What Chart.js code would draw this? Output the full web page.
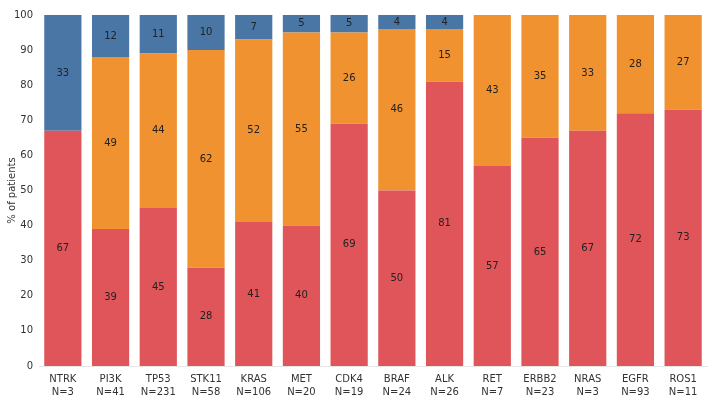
<!DOCTYPE html>
<html>
<head>
<meta charset="utf-8">
<script src="https://cdn.jsdelivr.net/npm/chart.js@4"></script>
<style>
  html, body { margin: 0; padding: 0; background: #fff; }
  #wrap { width: 709px; height: 400px; }
</style>
</head>
<body>
<div id="wrap"><canvas id="geneChart"></canvas></div>
<script>
// genes and patient counts
const genes = ['NTRK', 'PI3K', 'TP53', 'STK11', 'KRAS', 'MET', 'CDK4', 'BRAF', 'ALK', 'RET', 'ERBB2', 'NRAS', 'EGFR', 'ROS1'];
const counts = [3, 41, 231, 58, 106, 20, 19, 24, 26, 7, 23, 3, 93, 11];

// % of patients per segment (bottom -> top)
const redValues = [67, 39, 45, 28, 41, 40, 69, 50, 81, 57, 65, 67, 72, 73];
const orangeValues = [0, 49, 44, 62, 52, 55, 26, 46, 15, 43, 35, 33, 28, 27];
const blueValues = [33, 12, 11, 10, 7, 5, 5, 4, 4, 0, 0, 0, 0, 0];

const yTicks = [0, 10, 20, 30, 40, 50, 60, 70, 80, 90, 100];

// 막대 안쪽 값 표시
const segmentLabels = {
    id: 'segmentLabels',
    afterDatasetsDraw(chart) {
        const ctx = chart.ctx;
        ctx.save();
        ctx.font = '10px "DejaVu Sans", Verdana, sans-serif';
        ctx.fillStyle = '#222';
        ctx.textAlign = 'center';
        ctx.textBaseline = 'middle';
        chart.data.datasets.forEach((ds, i) => {
            const meta = chart.getDatasetMeta(i);
            meta.data.forEach((bar, j) => {
                const v = ds.data[j];
                if (!v) return;
                const mid = (bar.y + bar.base) / 2;
                ctx.fillText(String(v), bar.x, mid);
            });
        });
        ctx.restore();
    }
};

const ctx = document.getElementById('geneChart').getContext('2d');
const geneChart = new Chart(ctx, {
    type: 'bar',
    data: {
        labels: genes.map((g, i) => [g, 'N=' + counts[i]]),
        datasets: [{
            data: redValues,
            backgroundColor: '#E0555A',
            borderWidth: 0
        }, {
            data: orangeValues,
            backgroundColor: '#F0922F',
            borderWidth: 0
        }, {
            data: blueValues,
            backgroundColor: '#4A76A6',
            borderWidth: 0
        }]
    },
    options: {
        responsive: true,
        maintainAspectRatio: false,
        animation: false,
        layout: {
            padding: { top: 15, right: 2, bottom: 0, left: 0 }
        },
        plugins: {
            legend: { display: false },
            tooltip: { enabled: false }
        },
        datasets: {
            bar: {
                categoryPercentage: 1,
                barPercentage: 0.78
            }
        },
        scales: {
            x: {
                stacked: true,
                afterFit: (axis) => { axis.height = 34; },
                grid: { display: false, drawTicks: false },
                border: { display: true, color: '#e6e6e6' },
                ticks: {
                    color: '#333',
                    padding: 7,
                    maxRotation: 0,
                    autoSkip: false,
                    font: { family: '"DejaVu Sans", Verdana, sans-serif', size: 10, lineHeight: 1.3 }
                }
            },
            y: {
                stacked: true,
                min: 0,
                max: 100,
                afterBuildTicks: (axis) => {
                    axis.ticks = yTicks.map(v => ({ value: v }));
                },
                afterFit: (axis) => { axis.width = 39; },
                grid: { display: false, drawTicks: false },
                border: { display: false },
                title: {
                    display: true,
                    text: '% of patients',
                    color: '#333',
                    padding: { top: 6, bottom: 0 },
                    font: { family: '"DejaVu Sans", Verdana, sans-serif', size: 10 }
                },
                ticks: {
                    color: '#333',
                    padding: 6,
                    font: { family: '"DejaVu Sans", Verdana, sans-serif', size: 10 }
                }
            }
        }
    },
    plugins: [segmentLabels]
});
</script>
</body>
</html>
